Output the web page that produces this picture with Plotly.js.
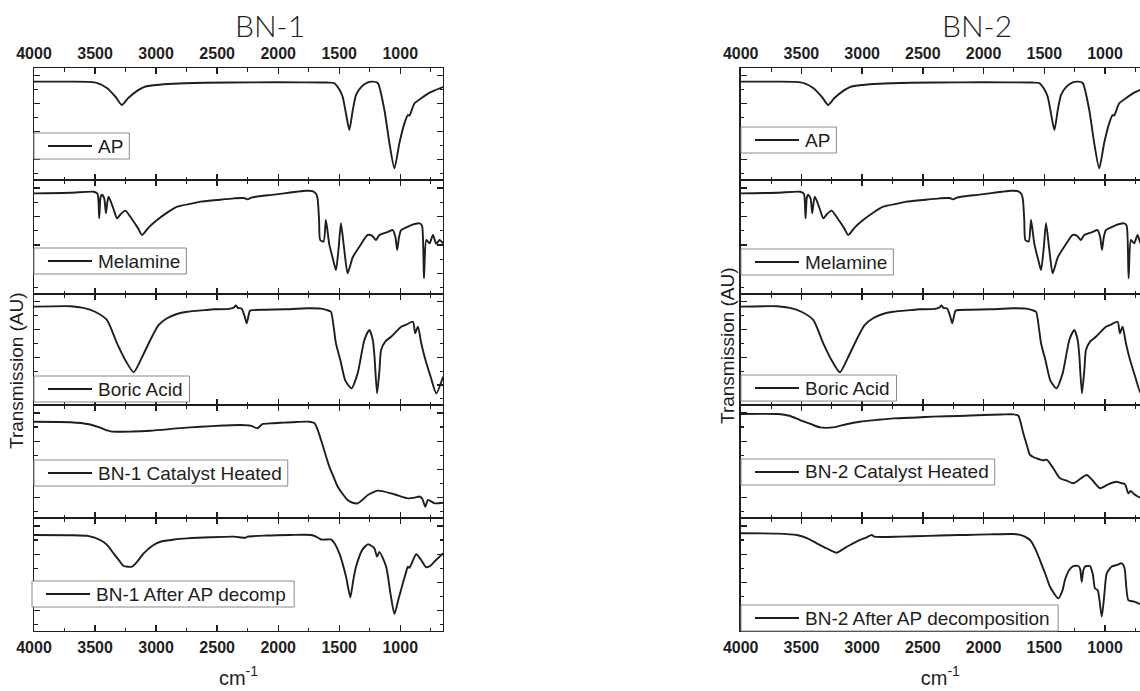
<!DOCTYPE html>
<html>
<head>
<meta charset="utf-8">
<script src="https://cdn.plot.ly/plotly-3.0.1.min.js"></script>
<style>
  html, body { margin: 0; padding: 0; background: #fff; }
  #chart { width: 1140px; height: 691px; }
</style>
</head>
<body>
<div id="chart"></div>
<script>
// FTIR spectra (wavenumber in cm^-1, transmission in arbitrary units per strip)

const apWn = [4000, 3700, 3550, 3480, 3400, 3330, 3280, 3230, 3150, 3100, 3000, 2860, 2600, 2200, 1800, 1600, 1543, 1500, 1472, 1445, 1417, 1389, 1362, 1321, 1266, 1225, 1184, 1130, 1089, 1048, 1007, 966, 938, 925, 883, 828, 760, 719, 650];
const apT  = [0.878, 0.878, 0.876, 0.865, 0.82, 0.74, 0.67, 0.73, 0.80, 0.83, 0.848, 0.86, 0.868, 0.872, 0.872, 0.87, 0.866, 0.81, 0.744, 0.595, 0.446, 0.625, 0.76, 0.83, 0.872, 0.878, 0.866, 0.625, 0.33, 0.104, 0.33, 0.506, 0.58, 0.575, 0.685, 0.73, 0.78, 0.80, 0.83];

const melWn = [4000, 3700, 3510, 3480, 3466, 3455, 3444, 3425, 3411, 3400, 3389, 3350, 3320, 3290, 3252, 3200, 3150, 3115, 3060, 2992, 2900, 2827, 2700, 2636, 2500, 2362, 2280, 2252, 2220, 2184, 2050, 1951, 1850, 1773, 1718, 1690, 1677, 1665, 1656, 1628, 1609, 1582, 1550, 1527, 1505, 1486, 1460, 1431, 1390, 1335, 1266, 1230, 1198, 1171, 1100, 1061, 1040, 1025, 1010, 993, 950, 910, 842, 822, 806, 787, 760, 732, 705, 678, 650];
const melT  = [0.883, 0.888, 0.897, 0.88, 0.664, 0.85, 0.87, 0.84, 0.708, 0.80, 0.853, 0.75, 0.664, 0.70, 0.731, 0.66, 0.58, 0.518, 0.585, 0.649, 0.72, 0.766, 0.795, 0.81, 0.825, 0.839, 0.842, 0.83, 0.845, 0.853, 0.87, 0.883, 0.897, 0.906, 0.903, 0.88, 0.836, 0.65, 0.474, 0.46, 0.649, 0.44, 0.30, 0.21, 0.40, 0.62, 0.40, 0.181, 0.32, 0.415, 0.518, 0.51, 0.474, 0.518, 0.545, 0.561, 0.50, 0.386, 0.50, 0.561, 0.585, 0.605, 0.62, 0.60, 0.137, 0.474, 0.444, 0.518, 0.44, 0.474, 0.445];

const boricWn = [4000, 3700, 3595, 3500, 3403, 3320, 3250, 3184, 3120, 3047, 2980, 2910, 2830, 2745, 2600, 2527, 2400, 2360, 2348, 2330, 2300, 2275, 2258, 2240, 2231, 2100, 1951, 1759, 1650, 1600, 1568, 1545, 1527, 1490, 1450, 1400, 1349, 1294, 1253, 1225, 1212, 1190, 1170, 1157, 1120, 1075, 993, 950, 896, 878, 855, 828, 801, 750, 705, 650];
const boricT  = [0.886, 0.89, 0.875, 0.84, 0.766, 0.556, 0.40, 0.295, 0.42, 0.586, 0.72, 0.781, 0.82, 0.84, 0.855, 0.862, 0.866, 0.88, 0.90, 0.875, 0.87, 0.80, 0.736, 0.82, 0.85, 0.858, 0.862, 0.871, 0.868, 0.855, 0.84, 0.70, 0.556, 0.40, 0.22, 0.15, 0.285, 0.586, 0.676, 0.586, 0.45, 0.105, 0.32, 0.495, 0.575, 0.615, 0.705, 0.725, 0.75, 0.646, 0.706, 0.556, 0.435, 0.25, 0.105, 0.255];

const cat1Wn = [4000, 3700, 3550, 3458, 3400, 3362, 3200, 3047, 2800, 2636, 2450, 2307, 2220, 2170, 2130, 2050, 1951, 1850, 1745, 1704, 1680, 1649, 1615, 1581, 1545, 1512, 1470, 1431, 1390, 1349, 1300, 1266, 1184, 1075, 1020, 938, 880, 842, 820, 795, 773, 719, 650];
const cat1T  = [0.852, 0.848, 0.83, 0.80, 0.775, 0.764, 0.765, 0.772, 0.795, 0.808, 0.818, 0.823, 0.815, 0.794, 0.83, 0.838, 0.844, 0.85, 0.852, 0.84, 0.79, 0.69, 0.57, 0.454, 0.36, 0.277, 0.21, 0.159, 0.135, 0.13, 0.17, 0.204, 0.242, 0.218, 0.20, 0.174, 0.18, 0.19, 0.17, 0.10, 0.16, 0.13, 0.135];

const aft1Wn = [4000, 3700, 3550, 3458, 3400, 3348, 3300, 3266, 3197, 3150, 3102, 3030, 2965, 2850, 2745, 2550, 2362, 2270, 2250, 2100, 1900, 1732, 1690, 1649, 1600, 1568, 1535, 1499, 1444, 1409, 1385, 1362, 1310, 1266, 1225, 1211, 1190, 1171, 1116, 1080, 1048, 1015, 979, 950, 938, 925, 869, 830, 787, 750, 719, 650];
const aft1T  = [0.85, 0.848, 0.84, 0.805, 0.76, 0.687, 0.62, 0.575, 0.57, 0.62, 0.687, 0.755, 0.79, 0.81, 0.82, 0.83, 0.835, 0.825, 0.835, 0.845, 0.85, 0.85, 0.835, 0.81, 0.81, 0.81, 0.77, 0.687, 0.48, 0.298, 0.45, 0.57, 0.72, 0.767, 0.745, 0.73, 0.658, 0.70, 0.57, 0.33, 0.15, 0.28, 0.422, 0.53, 0.57, 0.56, 0.679, 0.63, 0.564, 0.58, 0.616, 0.687];

const cat2Wn = [4000, 3700, 3600, 3512, 3420, 3347, 3237, 3130, 3018, 2880, 2743, 2550, 2414, 2200, 2002, 1850, 1755, 1714, 1673, 1640, 1618, 1590, 1563, 1508, 1480, 1426, 1371, 1316, 1261, 1200, 1151, 1100, 1041, 970, 904, 870, 836, 808, 790, 760, 726, 712];
const cat2T  = [0.92, 0.92, 0.905, 0.867, 0.83, 0.802, 0.802, 0.83, 0.852, 0.868, 0.882, 0.89, 0.897, 0.903, 0.912, 0.916, 0.917, 0.905, 0.75, 0.63, 0.558, 0.54, 0.528, 0.51, 0.516, 0.44, 0.351, 0.33, 0.307, 0.35, 0.38, 0.33, 0.263, 0.30, 0.321, 0.31, 0.30, 0.218, 0.24, 0.21, 0.188, 0.18];

const aft2Wn = [4000, 3700, 3539, 3450, 3374, 3290, 3209, 3150, 3100, 3030, 2962, 2921, 2900, 2688, 2450, 2277, 2139, 1950, 1755, 1700, 1660, 1618, 1580, 1536, 1490, 1453, 1385, 1350, 1330, 1295, 1261, 1220, 1205, 1192, 1180, 1165, 1124, 1100, 1083, 1060, 1027, 1005, 986, 945, 900, 863, 840, 808, 760, 726, 712];
const aft2T  = [0.865, 0.862, 0.85, 0.82, 0.776, 0.73, 0.693, 0.73, 0.761, 0.80, 0.829, 0.85, 0.835, 0.835, 0.842, 0.848, 0.85, 0.855, 0.858, 0.85, 0.835, 0.805, 0.74, 0.628, 0.50, 0.392, 0.289, 0.36, 0.451, 0.54, 0.575, 0.575, 0.55, 0.436, 0.53, 0.57, 0.575, 0.50, 0.378, 0.36, 0.127, 0.33, 0.51, 0.57, 0.585, 0.599, 0.56, 0.274, 0.26, 0.245, 0.24];

const leftNames  = ["AP", "Melamine", "Boric Acid", "BN-1 Catalyst Heated", "BN-1 After AP decomp"];
const rightNames = ["AP", "Melamine", "Boric Acid", "BN-2 Catalyst Heated", "BN-2 After AP decomposition"];
const panelTitles = ["BN-1", "BN-2"];
const xTickVals = [4000, 3500, 3000, 2500, 2000, 1500, 1000];
const yTitle = "Transmission (AU)";
const xTitle = "cm<sup>-1</sup>";

const leftSeries  = [[apWn, apT], [melWn, melT], [boricWn, boricT], [cat1Wn, cat1T], [aft1Wn, aft1T]];
const rightSeries = [[apWn, apT], [melWn, melT], [boricWn, boricT], [cat2Wn, cat2T], [aft2Wn, aft2T]];

// ---- geometry ----
const W = 1140, H = 691;
const px2x = p => p / W;
const px2y = p => 1 - p / H;
const rowEdgesPx = [68, 180, 294, 405, 518, 631];
const rowEdges = rowEdgesPx.map(px2y);
const panels = [
  { dom: [34 / W, 443 / W], range: [4000, 650], names: leftNames, series: leftSeries, mirror: "ticks",
    boxLeftPx: [34, 34, 34, 34, 32], boxTopPx: [133, 248, 376, 460, 581], titleX: 270, yTitleX: 16, yTitleY: 371 },
  { dom: [740.7 / W, 1], range: [4000, 712], names: rightNames, series: rightSeries, mirror: false,
    boxLeftPx: [741, 741, 741, 741, 741], boxTopPx: [127, 249, 375, 459, 605], titleX: 977, yTitleX: 727, yTitleY: 346 }
];

const ink = "#1e1e1e";
const sans = "Liberation Sans, Arial, sans-serif";
const tickFont = { family: sans, size: 16, color: ink, weight: "bold" };
const keyFontSize = 19;
const keyBoxH = 26;

// text width for sizing the key boxes
const ctx = document.createElement("canvas").getContext("2d");
ctx.font = keyFontSize + "px 'Liberation Sans', Arial, sans-serif";
const textW = s => ctx.measureText(s).width;

const traces = [];
const shapes = [];
const annotations = [];
const layout = {
  width: W, height: H,
  margin: { l: 0, r: 0, t: 0, b: 0 },
  paper_bgcolor: "#fff", plot_bgcolor: "#fff",
  showlegend: false,
  shapes: shapes, annotations: annotations
};

let idx = 0;
panels.forEach((pn, p) => {
  for (let r = 0; r < 5; r++) {
    idx++;
    const sfx = idx === 1 ? "" : String(idx);
    const xKey = "xaxis" + sfx, yKey = "yaxis" + sfx;
    const isTop = r === 0, isBottom = r === 4;

    traces.push({
      x: pn.series[r][0], y: pn.series[r][1],
      type: "scatter", mode: "lines",
      name: pn.names[r],
      line: { color: ink, width: 1.9, shape: "spline", smoothing: 0.6 },
      xaxis: "x" + sfx, yaxis: "y" + sfx,
      hoverinfo: "skip"
    });

    layout[xKey] = {
      domain: pn.dom, range: pn.range, anchor: "y" + sfx,
      side: isTop ? "top" : "bottom",
      showline: true, linecolor: ink, linewidth: 1.4, mirror: "ticks",
      ticks: "inside", ticklen: 6, tickwidth: 1.3, tickcolor: ink,
      tickmode: "array", tickvals: xTickVals,
      minor: { ticks: "inside", ticklen: 3.5, tickwidth: 1.1, tickcolor: ink, dtick: 250, tick0: 0 },
      showticklabels: isTop || isBottom,
      tickfont: tickFont, ticklabelstandoff: isTop ? 1 : 1,
      showgrid: false, zeroline: false, fixedrange: true
    };
    if (isBottom) {
      layout[xKey].title = { text: xTitle, font: { family: sans, size: 20, color: ink }, standoff: 16 };
    }

    layout[yKey] = {
      domain: [rowEdges[r + 1], rowEdges[r]], range: [0, 1], anchor: "x" + sfx,
      showline: true, linecolor: ink, linewidth: 1.4, mirror: pn.mirror,
      ticks: "inside", ticklen: 6, tickwidth: 1.3, tickcolor: ink,
      tick0: 0.18, dtick: 0.25,
      minor: { ticks: "inside", ticklen: 3.5, tickwidth: 1.1, tickcolor: ink, dtick: 0.125, tick0: 0.055 },
      showticklabels: false, showgrid: false, zeroline: false, fixedrange: true
    };

    // key box: frame, line sample and series name
    const left = pn.boxLeftPx[r], top = pn.boxTopPx[r];
    const textStart = left + 62;
    const right = textStart + textW(pn.names[r]) + 8;
    const midY = top + keyBoxH / 2;
    shapes.push({
      type: "rect", xref: "paper", yref: "paper", layer: "above",
      x0: px2x(left), x1: px2x(right), y0: px2y(top), y1: px2y(top + keyBoxH),
      line: { color: "#8a8a8a", width: 1 }, fillcolor: "#fff"
    });
    shapes.push({
      type: "line", xref: "paper", yref: "paper", layer: "above",
      x0: px2x(left + 14), x1: px2x(left + 58), y0: px2y(midY), y1: px2y(midY),
      line: { color: ink, width: 1.9 }
    });
    annotations.push({
      text: pn.names[r], xref: "paper", yref: "paper",
      x: px2x(textStart), y: px2y(midY), xanchor: "left", yanchor: "middle",
      showarrow: false, font: { family: sans, size: keyFontSize, color: ink }
    });
  }

  // panel title
  annotations.push({
    text: panelTitles[p], xref: "paper", yref: "paper",
    x: px2x(pn.titleX), y: px2y(25), xanchor: "center", yanchor: "middle",
    showarrow: false,
    font: { family: "Lato, DejaVu Sans, sans-serif", size: 30, weight: 300, color: ink }
  });
  // vertical axis label
  annotations.push({
    text: yTitle, xref: "paper", yref: "paper",
    x: px2x(pn.yTitleX), y: px2y(pn.yTitleY),
    xanchor: "center", yanchor: "middle", textangle: -90, showarrow: false,
    font: { family: sans, size: 19, color: ink }
  });
});

Plotly.newPlot("chart", traces, layout, { staticPlot: true, displayModeBar: false });
</script>
</body>
</html>
